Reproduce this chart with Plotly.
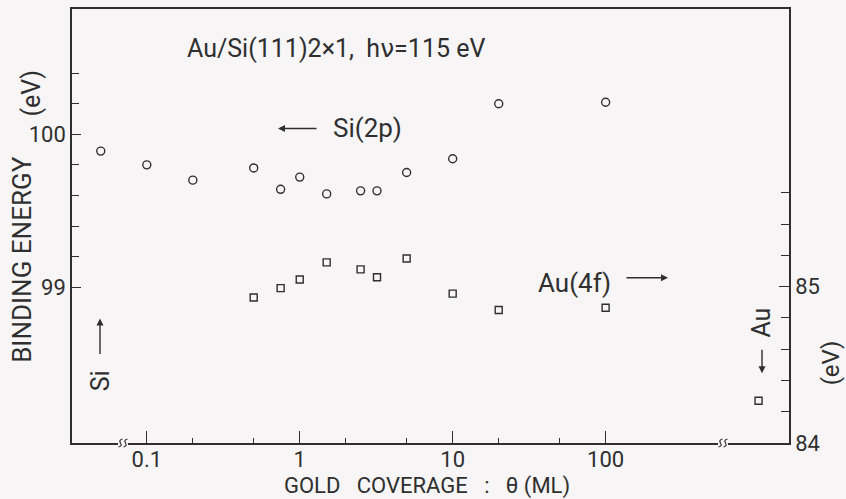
import plotly.graph_objects as go

# Si(2p) binding energies (left axis, eV) vs gold coverage (ML)
si_coverage = [0.05, 0.1, 0.2, 0.5, 0.75, 1.0, 1.5, 2.5, 3.2, 5.0, 10.0, 20.0, 100.0]
si_energy = [99.89, 99.80, 99.70, 99.78, 99.64, 99.72, 99.61, 99.63, 99.63, 99.75, 99.84, 100.20, 100.21]

# Au(4f) binding energies (right axis, eV); last point is bulk Au
au_coverage = [0.5, 0.75, 1.0, 1.5, 2.5, 3.2, 5.0, 10.0, 20.0, 100.0, 1000.0]
au_energy = [84.93, 84.99, 85.045, 85.155, 85.11, 85.06, 85.18, 84.955, 84.85, 84.865, 84.27]

x_tick_vals = [0.1, 1, 10, 100]
x_tick_text = ["0.1", "1", "10", "100"]
x_minor_vals = [0.2, 0.5, 2, 5, 20, 50]
y_left_ticks = [99, 100]
y_left_minor = [99.2, 99.4, 99.6, 99.8, 100.2, 100.4]
y_right_ticks = [84, 85]
y_right_minor = [84.2, 84.4, 84.6, 84.8, 85.2, 85.4, 85.6]

W, H = 846, 499
L, R, T, B = 72, 57, 7, 56
PW, PH = W - L - R, H - T - B
X_RANGE = [-1.489, 3.199]

INK = "#2f2f2f"
BG = "#f7f5f6"
FONT = "Roboto, DejaVu Sans, sans-serif"
NU = '<span style="font-family:DejaVu Sans">ν</span>'


def fx(xp):
    return (xp - L) / PW


def fy(yp):
    return 1 - (yp - T) / PH


fig = go.Figure()
fig.add_trace(go.Scatter(
    x=si_coverage, y=si_energy, mode="markers", name="Si(2p)",
    marker=dict(symbol="circle-open", size=8, color=INK, line=dict(width=1.4, color=INK)),
    yaxis="y", showlegend=False))
fig.add_trace(go.Scatter(
    x=au_coverage, y=au_energy, mode="markers", name="Au(4f)",
    marker=dict(symbol="square-open", size=7, color=INK, line=dict(width=1.4, color=INK)),
    yaxis="y2", showlegend=False))

axis_common = dict(showgrid=False, zeroline=False, showline=True, linecolor=INK, linewidth=1.5,
                   ticks="inside", tickcolor=INK, tickwidth=1.4,
                   tickfont=dict(family=FONT, size=22, color=INK))

fig.update_layout(
    width=W, height=H, margin=dict(l=L, r=R, t=T, b=B),
    paper_bgcolor=BG, plot_bgcolor=BG,
    xaxis=dict(type="log", range=X_RANGE, tickmode="array", tickvals=x_tick_vals, ticktext=x_tick_text,
               ticklen=12, mirror=True, ticklabelstandoff=-4,
               minor=dict(tickmode="array", tickvals=x_minor_vals, ticks="inside", ticklen=5,
                          tickcolor=INK, tickwidth=1.4),
               **axis_common),
    yaxis=dict(range=[97.98, 100.82], tickmode="array", tickvals=y_left_ticks, ticklen=9,
               minor=dict(tickmode="array", tickvals=y_left_minor, ticks="inside", ticklen=7,
                          tickcolor=INK, tickwidth=1.4),
               **axis_common),
    yaxis2=dict(range=[84.0, 86.775], overlaying="y", side="right", tickmode="array",
                tickvals=y_right_ticks, ticklen=10,
                minor=dict(tickmode="array", tickvals=y_right_minor, ticks="inside", ticklen=8,
                           tickcolor=INK, tickwidth=1.4),
                **axis_common),
)

ann = []


def label(xp, yp, text, xanchor="center", angle=0, size=26):
    ann.append(dict(xref="paper", yref="paper", x=fx(xp), y=fy(yp), text=text, showarrow=False,
                    xanchor=xanchor, yanchor="middle", textangle=angle, borderpad=0,
                    font=dict(family=FONT, size=size, color=INK)))


def arrow(x_tail, y_tail, x_tip, y_tip):
    ann.append(dict(xref="paper", yref="paper", x=fx(x_tip), y=fy(y_tip), text="",
                    showarrow=True, axref="pixel", ayref="pixel",
                    ax=x_tail - x_tip, ay=y_tail - y_tip,
                    arrowhead=2, arrowsize=1.0, arrowwidth=1.4, arrowcolor=INK, standoff=0))


label(186, 47, f"Au/Si(111)2×1,  h{NU}=115 eV", xanchor="left", size=25)
label(332, 127, "Si(2p)", xanchor="left", size=26)
arrow(318, 127, 278, 127)
label(537, 282, "Au(4f)", xanchor="left", size=26)
arrow(625, 277, 668, 277)
label(100, 381, "Si", angle=-90, size=25)
arrow(100, 355, 100, 318)
label(762, 322, "Au", angle=-90, size=25)
arrow(762, 348, 762, 373)
label(22, 259, "BINDING ENERGY", angle=-90, size=26)
label(32, 92, "(eV)", angle=-90, size=25)
label(831, 363, "(eV)", angle=-90, size=24)
label(427, 486, "GOLD   COVERAGE   :   θ (ML)", size=22)

fig.update_layout(annotations=ann)

# axis breaks on the bottom axis
shapes = []
gx, gy = 1.0 / PW, 1.0 / PH
for xb in (123, 723):
    c = fx(xb)
    shapes.append(dict(type="line", xref="paper", yref="paper", x0=c - 5 * gx, x1=c + 5 * gx, y0=0, y1=0,
                       line=dict(color=BG, width=4), layer="above"))
    for off in (-2.5, 2.5):
        x0 = c + off * gx
        path = (f"M {x0 - 2 * gx},{-4 * gy} Q {x0 + 2 * gx},{-3 * gy} {x0},0 "
                f"Q {x0 - 2 * gx},{3 * gy} {x0 + 2 * gx},{4 * gy}")
        shapes.append(dict(type="path", xref="paper", yref="paper", path=path,
                           line=dict(color=INK, width=1.2), layer="above"))
fig.update_layout(shapes=shapes)

fig.write_html("out.html")
